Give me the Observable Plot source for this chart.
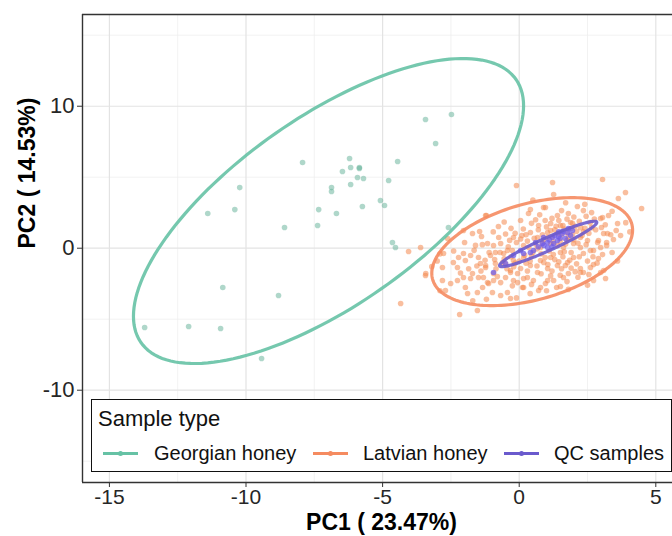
<!DOCTYPE html>
<html>
<head>
<meta charset="utf-8">
<script src="https://cdn.jsdelivr.net/npm/d3@7"></script>
<script src="https://cdn.jsdelivr.net/npm/@observablehq/plot@0.6"></script>
<style>
  body { margin: 0; background: #fff; font-family: "Liberation Sans", Arial, sans-serif; }
  #wrap { position: relative; width: 672px; height: 536px; overflow: hidden; }
  .legend { position: absolute; left: 91px; top: 399px; width: 581px; height: 73px;
            border: 1.6px solid #111; background: #fff; box-sizing: border-box; }
  .legend .title { position: absolute; left: 6px; top: 8px; font-size: 22px; line-height: 22px; color: #111; }
  .legend .key { position: absolute; top: 52px; width: 35px; height: 3px; }
  .legend .key i { position: absolute; left: 15px; top: -1px; width: 5px; height: 5px; border-radius: 50%; }
  .legend .lab { position: absolute; top: 43px; font-size: 20px; line-height: 20px; color: #111; white-space: nowrap; }
</style>
</head>
<body>
<div id="wrap"></div>
<script>
// Sample groups and their colours
const groups = ["Georgian honey", "Latvian honey", "QC samples"];
const strokeColors = ["#66C2A5", "#F58B60", "#6A5ACD"];
const pointColors = ["#5FB096", "#F4884F", "#6F5CE8"];

// Axis ticks
const xTicks = [-15, -10, -5, 0, 5];
const xMinor = [-12.5, -7.5, -2.5, 2.5];
const yTicks = [-10, 0, 10];
const yMinor = [-15, -5, 5, 15];

// PCA scores [PC1, PC2]
const georgian = [
  [-3.43, 9.06], [-2.48, 9.42], [-3.06, 7.37], [-7.93, 6.04], [-6.21, 6.32], [-4.45, 6.11],
  [-6.47, 5.40], [-6.17, 5.68], [-5.85, 5.68], [-5.85, 5.61], [-5.92, 4.98], [-5.70, 4.91],
  [-4.78, 4.77], [-6.17, 4.49], [-6.87, 4.27], [-6.87, 3.99], [-5.08, 3.36], [-4.93, 3.01],
  [-5.74, 2.94], [-7.34, 2.72], [-6.69, 2.44], [-7.38, 1.60], [-2.59, 1.46], [-4.64, 0.40],
  [-4.53, 0.05], [-10.23, 4.27], [-10.41, 2.72], [-11.40, 2.44], [-8.59, 1.46], [-10.85, -2.77],
  [-8.81, -3.33], [-13.71, -5.58], [-12.10, -5.51], [-10.93, -5.65], [-9.43, -7.77]
];

const latvian = [
  [-0.10, 4.42], [1.22, 4.63], [3.05, 4.84], [1.26, 3.78], [3.89, 3.92], [3.63, 3.50], [4.48, 2.80],
  [-4.05, -0.23], [-3.61, 0.05], [-4.34, -3.89], [-2.18, -4.67], [-1.53, -4.39], [-3.43, -1.92],
  [2.72, -2.27], [-1.20, 2.30], [-1.45, 1.18], [-1.71, 1.04], [-2.04, 1.25], [-2.62, 0.68],
  [-1.38, 0.82], [2.65, 2.51], [2.13, 2.94], [0.96, 2.87], [0.41, 2.73], [3.27, 2.30], [2.98, 2.09],
  [3.60, 1.74], [3.01, 1.46], [3.23, 1.04], [3.71, 0.89], [3.45, 0.61], [3.20, 0.40], [2.90, 0.54],
  [2.72, -1.15], [2.98, -1.71], [2.24, -1.43], [2.35, -1.71], [1.80, -1.78], [1.26, -2.27],
  [0.71, -2.98], [1.37, -2.77], [0.96, -2.49], [1.69, -1.22], [1.99, -0.65], [2.61, -0.16],
  [2.98, 0.05], [-3.42, -1.78], [-2.77, -0.37], [-2.81, -1.36], [-2.81, -2.27], [-2.41, -1.01],
  [-2.22, -0.65], [-2.26, -1.36], [-2.04, -0.37], [-1.78, -0.51], [-1.97, -0.87], [-1.49, -0.65],
  [-1.42, -1.08], [-1.23, -1.22], [-1.71, -1.78], [-1.78, -2.13], [-1.49, -2.06], [-2.04, -2.06],
  [-1.97, -2.77], [-2.26, -2.27], [-2.51, -2.49], [-2.70, -2.98], [-1.89, -3.19], [-1.53, -3.12],
  [-1.34, -2.77], [-1.12, -2.49], [-1.31, -2.06], [-0.94, -2.27], [-0.68, -2.42], [-0.98, -3.12],
  [-0.68, -3.33], [-0.43, -3.12], [-0.32, -3.54], [-0.94, 0.19], [-0.87, -0.30], [-0.43, -0.16],
  [-0.61, -1.01], [-0.32, -1.57], [-0.06, -1.78], [0.16, -2.13], [-0.21, -2.27], [0.12, -2.77],
  [-0.50, -2.06], [-1.23, 2.30], [-0.76, 1.53], [0.05, 1.95], [0.34, 2.44], [0.89, 2.87],
  [1.40, 2.30], [1.80, 2.44], [3.05, 2.16], [0.71, 1.60], [1.15, 1.74], [1.51, 1.60], [1.88, 1.81],
  [0.41, 1.11], [-0.21, 0.75], [-0.68, 0.33], [-1.16, 0.33], [-1.05, -0.51], [-1.23, -1.36],
  [-0.94, -1.78], [-0.06, -2.42], [0.30, -2.06], [0.67, -1.71], [1.04, -1.43], [1.40, -1.22],
  [1.77, -1.01], [2.35, -0.37], [2.72, -0.16], [2.87, 0.40], [3.09, 1.04], [2.50, 0.54],
  [2.24, 0.75], [1.51, -0.30], [1.15, -0.65], [0.78, -0.87], [0.41, -1.22], [0.05, -1.43],
  [-0.32, -1.71], [0.52, -2.27], [1.04, -2.27], [1.62, -2.06], [2.24, -1.71], [2.61, -1.36],
  [-0.21, -0.87], [0.16, -0.65], [0.78, 0.05], [1.15, 0.33], [0.67, 0.75], [1.04, 1.11],
  [1.40, 1.04], [1.77, 1.04], [1.99, 0.33], [1.62, 0.05], [0.16, 0.19], [-0.25, -0.16],
  [-0.57, -0.37], [2.24, 0.05], [-0.87, -1.08], [0.16, -2.77], [0.78, -2.77], [1.51, -2.70],
  [-1.16, -2.42], [2.90, -0.73], [3.09, -1.57], [3.16, -2.13],
  [0.30, 0.50], [0.60, 0.30], [0.90, 0.60], [1.20, 0.80], [1.50, 0.50], [1.80, 0.70], [2.10, 1.20],
  [2.40, 1.40], [0.50, -0.30], [0.80, -0.40], [1.10, -0.20], [1.40, 0.20], [1.70, 0.30], [2.00, 0.60],
  [2.30, 0.90], [0.20, -0.50], [0.00, -0.90], [-0.30, -0.60], [-0.50, -1.10], [0.40, -0.90],
  [0.90, -1.00], [1.30, -0.80], [1.60, -0.60], [1.90, -0.30], [2.20, -0.60], [2.50, -0.90],
  [0.70, 1.30], [1.00, 1.50], [1.30, 1.30], [1.60, 1.60], [1.90, 1.40], [2.20, 1.90], [2.60, 1.80],
  [2.80, 1.30], [0.10, 0.90], [-0.10, 0.40], [-0.40, 0.10], [-0.70, -0.30], [-0.90, -0.80],
  [-1.10, -0.30], [-1.40, -1.60], [-0.80, -2.00], [-0.20, -1.30], [0.30, -1.60], [0.80, -1.80],
  [1.20, -1.60], [1.50, -1.90], [1.90, -1.40], [2.10, -1.10], [2.70, -0.60], [3.20, 0.20],
  [3.40, -0.30], [2.00, 2.20], [1.20, 2.10], [0.60, 2.00], [-0.30, 1.40], [-0.50, 1.00],
  [-1.60, 0.20], [-2.00, 0.40], [-2.40, -0.20], [-3.00, -0.90], [-2.90, -0.40], [-1.20, -3.60],
  [-0.10, -3.50], [0.40, -3.20], [1.00, -3.00], [-1.70, -3.70], [0.50, 3.40], [1.70, 3.20],
  [2.40, 3.10], [3.40, 2.60], [3.90, 1.80], [4.05, 1.15], [3.60, -0.90], [2.50, -2.60],
  [1.80, -2.90], [-2.90, -3.00], [-3.20, -1.30],
  [0.35, 0.05], [0.55, 0.70], [0.85, 0.95], [1.05, 0.75], [1.25, 0.45], [1.35, 1.55], [1.55, 0.95],
  [1.65, 1.35], [1.75, 0.55], [1.95, 0.95], [2.05, 1.55], [2.15, 0.35], [2.35, 1.15], [2.45, 0.25],
  [2.55, 1.05], [2.65, 1.45], [0.25, -1.05], [0.45, -0.55], [0.65, -1.25], [0.95, -0.65],
  [1.05, -1.15], [1.25, -0.45], [1.45, -0.95], [1.55, -1.45], [1.85, -0.85], [2.05, -1.65],
  [0.15, 1.35], [0.45, 1.75], [0.95, 1.95], [1.45, 1.95], [1.75, 2.05], [2.45, 2.25], [2.75, 2.05],
  [-0.15, 1.05], [-0.35, 0.55], [-0.55, -0.75], [-0.75, 0.75], [-0.15, -1.05], [-0.45, -1.45],
  [0.05, 0.65], [0.25, 0.95], [-0.85, -1.45], [-1.25, -0.85], [-1.55, -1.25], [-1.85, -1.45],
  [-1.65, -0.15], [-1.35, 0.25], [-2.15, -1.75], [-0.25, -2.65], [0.45, -2.55], [1.15, -1.95],
  [1.75, -2.35], [2.15, -2.05], [2.55, -1.85], [2.85, -1.05], [3.05, -0.45], [3.35, 0.95],
  [3.15, 1.65], [3.55, 1.25], [2.35, 2.65], [1.55, 2.65], [0.75, 2.35], [-0.55, 1.85], [-0.95, 1.15],
  [0.65, -0.05], [1.95, 1.75], [2.25, 1.45], [1.15, 1.25], [0.85, 0.35], [1.65, -0.25]
];

const qc = [
  [-0.50, -1.08], [-0.94, -1.71], [-0.21, -0.51], [0.16, -0.37], [0.52, -0.16], [0.85, 0.33],
  [1.04, 0.40], [1.22, 0.75], [1.44, 0.82], [1.58, 1.04], [1.77, 1.11], [1.88, 0.89], [1.40, 0.54],
  [1.04, 0.05], [0.41, -0.30], [0.05, -0.16], [1.26, 0.33], [1.69, 0.68], [0.89, 0.75], [1.80, 1.39],
  [1.10, 0.60], [1.30, 0.90], [1.50, 0.70], [0.70, 0.10], [0.90, 0.20], [1.60, 1.20], [1.95, 1.25],
  [1.20, 0.10], [0.60, 0.40], [1.45, 1.15]
];

// Confidence ellipse parameters per group: centre, half-extent along each axis, correlation
const ellipseCx = [-6.98, 0.475, 1.06];
const ellipseCy = [2.62, -0.24, 0.30];
const ellipseHx = [7.14, 3.675, 1.78];
const ellipseHy = [10.74, 3.80, 1.60];
const ellipseRho = [0.69, 0.40, 0.95];

const points = [
  ...georgian.map(([x, y]) => ({x, y, g: groups[0]})),
  ...latvian.map(([x, y]) => ({x, y, g: groups[1]})),
  ...qc.map(([x, y]) => ({x, y, g: groups[2]}))
];

// Ellipse outline: centre + unit circle times Cholesky factor of the shape matrix
const ellipses = [];
groups.forEach((g, i) => {
  const n = 160;
  for (let k = 0; k <= n; k++) {
    const t = (2 * Math.PI * k) / n;
    const c = Math.cos(t), s = Math.sin(t);
    const r = ellipseRho[i];
    ellipses.push({
      g,
      x: ellipseCx[i] + ellipseHx[i] * c,
      y: ellipseCy[i] + ellipseHy[i] * (r * c + Math.sqrt(1 - r * r) * s)
    });
  }
});

const xDomain = [-15.985, 5.611];
const yDomain = [-16.50, 16.46];

const colorScale = {domain: groups, range: strokeColors};

const chart = Plot.plot({
  width: 672,
  height: 536,
  marginLeft: 82,
  marginRight: 0,
  marginTop: 14,
  marginBottom: 54,
  style: {fontFamily: "Liberation Sans, Arial, sans-serif", color: "#262626", background: "#fff"},
  x: {domain: xDomain},
  y: {domain: yDomain},
  color: colorScale,
  marks: [
    Plot.gridX(xMinor, {stroke: "#ececec", strokeOpacity: 1, strokeWidth: 0.7}),
    Plot.gridY(yMinor, {stroke: "#ececec", strokeOpacity: 1, strokeWidth: 0.7}),
    Plot.gridX(xTicks, {stroke: "#e3e3e3", strokeOpacity: 1, strokeWidth: 1.2}),
    Plot.gridY(yTicks, {stroke: "#e3e3e3", strokeOpacity: 1, strokeWidth: 1.2}),
    Plot.dot(points, {
      x: "x", y: "y", r: 2.8, stroke: null,
      fill: d => pointColors[groups.indexOf(d.g)],
      fillOpacity: d => d.g === groups[2] ? 0.75 : d.g === groups[1] ? 0.55 : 0.5
    }),
    Plot.line(ellipses, {x: "x", y: "y", z: "g", stroke: "g", strokeWidth: 3.2, strokeOpacity: 0.9, curve: "linear"}),
    // panel border (left, top, bottom)
    Plot.ruleX([xDomain[0]], {stroke: "#333", strokeWidth: 1.4}),
    Plot.ruleY(yDomain, {stroke: "#333", strokeWidth: 1.4}),
    Plot.axisX(xTicks, {tickSize: 5, tickPadding: 2, fontSize: 21, tickFormat: d => String(d), label: null, stroke: "#333"}),
    Plot.axisY(yTicks, {tickSize: 5, tickPadding: 3, fontSize: 22, tickFormat: d => String(d), label: null, stroke: "#333"}),
    Plot.text(["PC1 ( 23.47%)"], {frameAnchor: "bottom", dx: 4, dy: 47, fontSize: 23, fontWeight: "bold", fill: "#000"}),
    Plot.text(["PC2 ( 14.53%)"], {frameAnchor: "left", dx: -55, rotate: -90, fontSize: 23, fontWeight: "bold", fill: "#000"})
  ]
});

const wrap = document.getElementById("wrap");
wrap.appendChild(chart);

// Legend box inside the panel
const legend = d3.select(wrap).append("div").attr("class", "legend");
legend.append("div").attr("class", "title").text("Sample type");
const keyLeft = [11, 221, 412];
const labLeft = [62, 271, 462];
groups.forEach((g, i) => {
  const key = legend.append("div").attr("class", "key")
    .style("left", keyLeft[i] + "px").style("background", strokeColors[i]);
  key.append("i").style("background", strokeColors[i]);
  legend.append("div").attr("class", "lab").style("left", labLeft[i] + "px").text(g);
});
</script>
</body>
</html>
